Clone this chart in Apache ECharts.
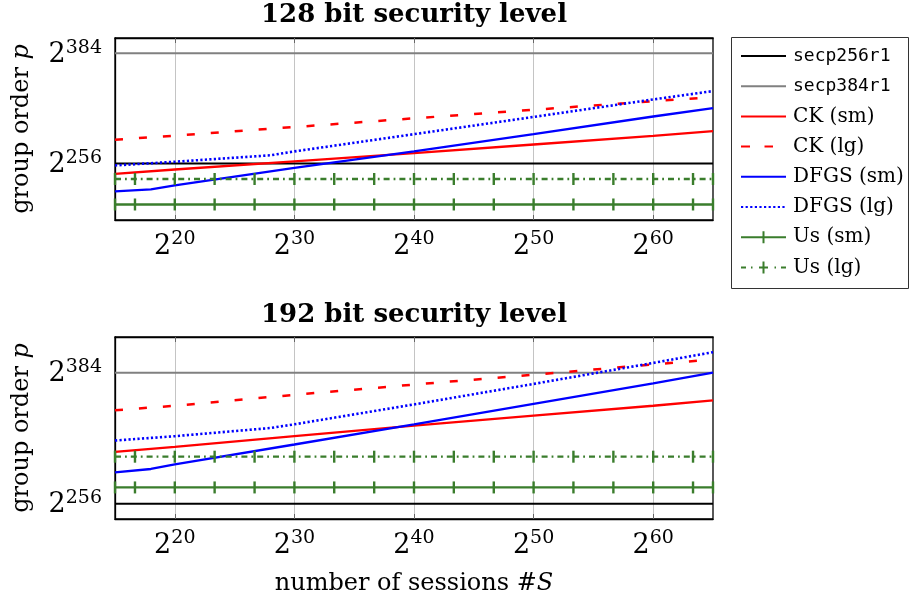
<!DOCTYPE html>
<html>
<head>
<meta charset="utf-8">
<script src="https://cdn.jsdelivr.net/npm/echarts@6/dist/echarts.min.js"></script>
<style>
  html, body { margin: 0; padding: 0; background: #fff; }
  #main { width: 910px; height: 602px; }
</style>
</head>
<body>
<div id="main"></div>
<script>
// x = log2(#sessions), y = log2(group order p)
var xRange = [15, 65];
var xTicks = [20, 30, 40, 50, 60];
var yTicks = [256, 384];

var ckX = [15, 20, 30, 40, 50, 60, 65];
var dfgsSmX = [15, 18, 20, 30, 40, 50, 60, 65];
var dfgsLgX = [15, 20, 28, 30, 40, 50, 60, 65];
var usX = [15, 16.67, 20, 23.33, 26.67, 30, 33.33, 36.67, 40, 43.33, 46.67, 50, 53.33, 56.67, 60, 63.33, 65];

// 128 bit security level
var top_ckSm = [244, 249, 258.5, 268, 278, 288, 293.5];
var top_ckLg = [283.5, 288.3, 298.3, 308.4, 318.3, 328.3, 333];
var top_dfgsSm = [223.7, 226, 230.6, 251, 270, 290, 310.5, 320.2];
var top_dfgsLg = [253.7, 258, 265.5, 270, 290, 310, 330.3, 340];
var top_usSm = [208.4, 208.4, 208.4, 208.4, 208.4, 208.4, 208.4, 208.4, 208.4, 208.4, 208.4, 208.4, 208.4, 208.4, 208.4, 208.4, 208.4];
var top_usLg = [238, 238, 238, 238, 238, 238, 238, 238, 238, 238, 238, 238, 238, 238, 238, 238, 238];

// 192 bit security level
var bot_ckSm = [306.7, 311.6, 322, 332.4, 342, 351.7, 357];
var bot_ckLg = [347.3, 351.7, 362.4, 372.4, 382, 392, 396.8];
var bot_dfgsSm = [286.7, 290, 294.5, 313.9, 333.5, 353.5, 373.5, 384];
var bot_dfgsLg = [317.8, 322, 330, 333.6, 353, 373, 393.5, 404];
var bot_usSm = [272, 272, 272, 272, 272, 272, 272, 272, 272, 272, 272, 272, 272, 272, 272, 272, 272];
var bot_usLg = [302, 302, 302, 302, 302, 302, 302, 302, 302, 302, 302, 302, 302, 302, 302, 302, 302];

var secp256 = 256;
var secp384 = 384;

var names = ["secp256r1", "secp384r1", "CK (sm)", "CK (lg)", "DFGS (sm)", "DFGS (lg)", "Us (sm)", "Us (lg)"];

var RED = "#ff0000", BLUE = "#0000ff", GREEN = "#3a7d2c";
var SERIF = "DejaVu Serif";

// legend icons (45 x 14 box), drawn as filled paths
var dotted = "";
for (var k = 0; k < 10; k++) {
  dotted += "M" + (k * 4.6) + ",6h2.2v2.2h-2.2Z ";
}
var icons = {
  solid: "path://M0,6H45V8H0Z",
  dashed: "path://M0,6H9V8H0Z M23.5,6H32V8H23.5Z M45,7",
  dotted: "path://" + dotted + "M45,7",
  usSm: "path://M0,6H45V8H0Z M21.5,1H23.5V13H21.5Z",
  usLg: "path://M0,6H5V8H0Z M10,6H11.5V8H10Z M18,6H27V8H18Z M21.5,1H23.5V13H21.5Z M33.5,6H35V8H33.5Z M40,6H45V8H40Z"
};
var legendIcons = [icons.solid, icons.solid, icons.solid, icons.dashed, icons.solid, icons.dotted, icons.usSm, icons.usLg];

function pairs(xs, ys) {
  return xs.map(function (x, i) { return [x, ys[i]]; });
}

function makeSeries(gi, d) {
  var xi = gi * 2, yi = gi;
  var base = { type: "line", xAxisIndex: xi, yAxisIndex: yi, symbol: "none", silent: true };
  return [
    Object.assign({}, base, { name: names[0], data: pairs(xRange, [secp256, secp256]), lineStyle: { color: "#000", width: 2 }, itemStyle: { color: "#000" } }),
    Object.assign({}, base, { name: names[1], data: pairs(xRange, [secp384, secp384]), lineStyle: { color: "#808080", width: 2 }, itemStyle: { color: "#808080" } }),
    Object.assign({}, base, { name: names[2], data: pairs(ckX, d.ckSm), lineStyle: { color: RED, width: 2.3 }, itemStyle: { color: RED } }),
    Object.assign({}, base, { name: names[3], data: pairs(ckX, d.ckLg), lineStyle: { color: RED, width: 2.5, type: [8, 16] }, itemStyle: { color: RED } }),
    Object.assign({}, base, { name: names[4], data: pairs(dfgsSmX, d.dfgsSm), lineStyle: { color: BLUE, width: 2.3 }, itemStyle: { color: BLUE } }),
    Object.assign({}, base, { name: names[5], data: pairs(dfgsLgX, d.dfgsLg), lineStyle: { color: BLUE, width: 2.6, type: [2.2, 2.3] }, itemStyle: { color: BLUE } }),
    Object.assign({}, base, { name: names[6], data: pairs(usX, d.usSm), symbol: "rect", symbolSize: [2.4, 12], showAllSymbol: true, lineStyle: { color: GREEN, width: 2.3 }, itemStyle: { color: GREEN } }),
    Object.assign({}, base, { name: names[7], data: pairs(usX, d.usLg), symbol: "rect", symbolSize: [2.4, 12], showAllSymbol: true, lineStyle: { color: GREEN, width: 2.3, type: [6, 4, 1.8, 4] }, itemStyle: { color: GREEN } })
  ];
}

var supRich = {
  b: { fontFamily: SERIF, fontSize: 27, color: "#000", verticalAlign: "bottom", lineHeight: 30 },
  s: { fontFamily: SERIF, fontSize: 19, color: "#000", verticalAlign: "top", lineHeight: 18 }
};

function xAxes(gi, withName) {
  var common = {
    type: "value", gridIndex: gi, min: xRange[0], max: xRange[1],
    splitLine: { show: true, lineStyle: { color: "#c4c4c4", width: 1 } },
    axisLine: { show: true, lineStyle: { color: "#000", width: 1.3 } },
    axisTick: { show: true, inside: true, length: 5, lineStyle: { color: "#666" }, customValues: xTicks }
  };
  var bottom = Object.assign({}, common, {
    position: "bottom",
    axisLabel: {
      customValues: xTicks, margin: 10,
      formatter: function (v) { return "{b|2}{s|" + v + "}"; },
      rich: supRich
    }
  });
  if (withName) {
    Object.assign(bottom, {
      name: "number of sessions #{i|S}", nameLocation: "middle", nameGap: 53,
      nameTextStyle: { fontFamily: SERIF, fontSize: 24, color: "#000",
        rich: { i: { fontFamily: SERIF, fontSize: 24, fontStyle: "italic", color: "#000" } } }
    });
  }
  var topAx = Object.assign({}, common, { position: "top", splitLine: { show: false }, axisLabel: { show: false } });
  return [bottom, topAx];
}

function yAxis(gi, mn, mx) {
  return {
    type: "value", gridIndex: gi, min: mn, max: mx,
    splitLine: { show: false },
    axisTick: { show: false },
    axisLine: { show: true, lineStyle: { color: "#000", width: 1.3 } },
    axisLabel: {
      customValues: yTicks, margin: 13,
      formatter: function (v) { return "{b|2}{s|" + v + "}"; },
      rich: supRich
    },
    name: "group order {i|p}", nameLocation: "middle", nameRotate: 90, nameGap: 81,
    nameTextStyle: { fontFamily: SERIF, fontSize: 24, color: "#000",
      rich: { i: { fontFamily: SERIF, fontSize: 24, fontStyle: "italic", color: "#000" } } }
  };
}

var chart = echarts.init(document.getElementById("main"), null, { renderer: "canvas" });

var topData = { ckSm: top_ckSm, ckLg: top_ckLg, dfgsSm: top_dfgsSm, dfgsLg: top_dfgsLg, usSm: top_usSm, usLg: top_usLg };
var botData = { ckSm: bot_ckSm, ckLg: bot_ckLg, dfgsSm: bot_dfgsSm, dfgsLg: bot_dfgsLg, usSm: bot_usSm, usLg: bot_usLg };

var option = {
  animation: false,
  backgroundColor: "#fff",
  title: [
    { text: "128 bit security level", left: 414, top: 2, textAlign: "center", padding: 0,
      textStyle: { fontFamily: SERIF, fontWeight: "bold", fontSize: 26, color: "#000" } },
    { text: "192 bit security level", left: 414, top: 302, textAlign: "center", padding: 0,
      textStyle: { fontFamily: SERIF, fontWeight: "bold", fontSize: 26, color: "#000" } }
  ],
  legend: {
    orient: "vertical", left: 741, top: 45, padding: 0,
    itemWidth: 45, itemHeight: 14, itemGap: 8.2,
    data: names.map(function (n, i) { return { name: n, icon: legendIcons[i] }; }),
    formatter: function (n) { return n.indexOf("secp") === 0 ? "{m|" + n + "}" : n; },
    textStyle: { fontFamily: SERIF, fontSize: 20, lineHeight: 22, color: "#000", padding: [0, 0, 0, 2],
      rich: { m: { fontFamily: "DejaVu Sans Mono", fontSize: 18, lineHeight: 22, color: "#000" } } }
  },
  graphic: [
    { type: "rect", shape: { x: 731.5, y: 37.5, width: 177, height: 251 },
      style: { fill: "none", stroke: "#333", lineWidth: 1 }, silent: true }
  ],
  grid: [
    { left: 115, top: 38, width: 598, height: 182, show: true, borderColor: "#000", borderWidth: 1.3, backgroundColor: "transparent" },
    { left: 115, top: 337, width: 598, height: 182, show: true, borderColor: "#000", borderWidth: 1.3, backgroundColor: "transparent" }
  ],
  xAxis: xAxes(0, false).concat(xAxes(1, true)),
  yAxis: [yAxis(0, 190.4, 401.6), yAxis(1, 241.2, 418.8)],
  series: makeSeries(0, topData).concat(makeSeries(1, botData))
};

chart.setOption(option);
</script>
</body>
</html>
